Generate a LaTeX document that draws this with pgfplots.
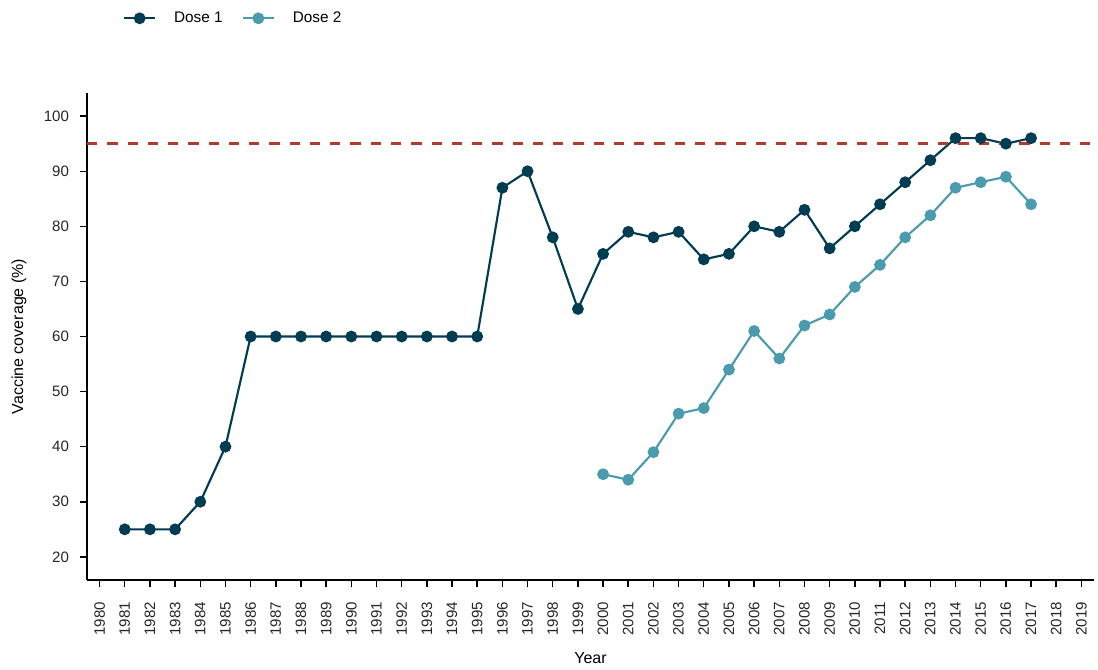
\documentclass[border=0pt]{standalone}
\usepackage{pgfplots}
\pgfplotsset{compat=1.18}
\usepackage{fontspec}
\setmainfont{Liberation Sans}
\definecolor{doseone}{HTML}{003D52}
\definecolor{dosetwo}{HTML}{4A9BAD}
\definecolor{target}{HTML}{B03A2C}
\begin{document}
\fontsize{11.5}{13.8}\selectfont
\begin{tikzpicture}
\begin{axis}[
  name=ax,
  scale only axis,
  width=755.25pt, height=365.25pt,
  xmin=1979.5, xmax=2019.5,
  ymin=15.8, ymax=104.2,
  axis x line=bottom, axis y line=left,
  axis line style={line width=1.5pt, -},
  xtick={1980,...,2019},
  ytick={20,30,...,100},
  tick style={line width=1.1pt, black},
  major tick length=5.5pt,
  tick align=outside,
  xticklabel style={rotate=90, anchor=east, font=\fontsize{11.3}{13}\selectfont, text=black!85},
  xticklabel shift=7pt,
  yticklabel style={xshift=-4pt, font=\fontsize{11.3}{13}\selectfont, text=black!85},
  /pgf/number format/assume math mode=true,
  /pgf/number format/1000 sep={},
  xlabel={Year},
  ylabel={Vaccine coverage (\%)},
  xlabel style={at={(axis description cs:0.5,-0.16)}, anchor=center, font=\fontsize{12}{14}\selectfont},
  ylabel style={at={(axis description cs:-0.0675,0.5)}, anchor=center, font=\fontsize{12}{14}\selectfont},
  legend columns=2,
  legend style={draw=none, fill=none, at={(axis description cs:0,1)}, anchor=west, xshift=24pt, yshift=56pt,
    font=\fontsize{11.5}{13.8}\selectfont,
    /tikz/every odd column/.append style={column sep=11.5pt},
    /tikz/every even column/.append style={column sep=12.5pt}},
  legend image code/.code={\draw[mark repeat=2, mark phase=2, #1] plot coordinates {(0pt,0pt) (11.5pt,0pt) (23pt,0pt)};},
  clip=false,
]
\addplot[doseone, line width=1.6pt, mark=*, mark size=3.6pt] coordinates {
(1981,25) (1982,25) (1983,25) (1984,30) (1985,40) (1986,60) (1987,60) (1988,60) (1989,60) (1990,60)
(1991,60) (1992,60) (1993,60) (1994,60) (1995,60) (1996,87) (1997,90) (1998,78) (1999,65) (2000,75)
(2001,79) (2002,78) (2003,79) (2004,74) (2005,75) (2006,80) (2007,79) (2008,83) (2009,76) (2010,80)
(2011,84) (2012,88) (2013,92) (2014,96) (2015,96) (2016,95) (2017,96)};
\addlegendentry{Dose 1}
\addplot[dosetwo, line width=1.6pt, mark=*, mark size=3.6pt] coordinates {
(2000,35) (2001,34) (2002,39) (2003,46) (2004,47) (2005,54) (2006,61) (2007,56) (2008,62) (2009,64)
(2010,69) (2011,73) (2012,78) (2013,82) (2014,87) (2015,88) (2016,89) (2017,84)};
\addlegendentry{Dose 2}
\addplot[target, line width=2pt, dash pattern=on 7.7pt off 7.5pt, forget plot] coordinates {(1979.5,95) (2019.5,95)};
\end{axis}
\pgfresetboundingbox
\path (ax.south west) ++(-65.25pt,-66.75pt) rectangle ++(823.5pt,501.75pt);
\end{tikzpicture}
\end{document}
